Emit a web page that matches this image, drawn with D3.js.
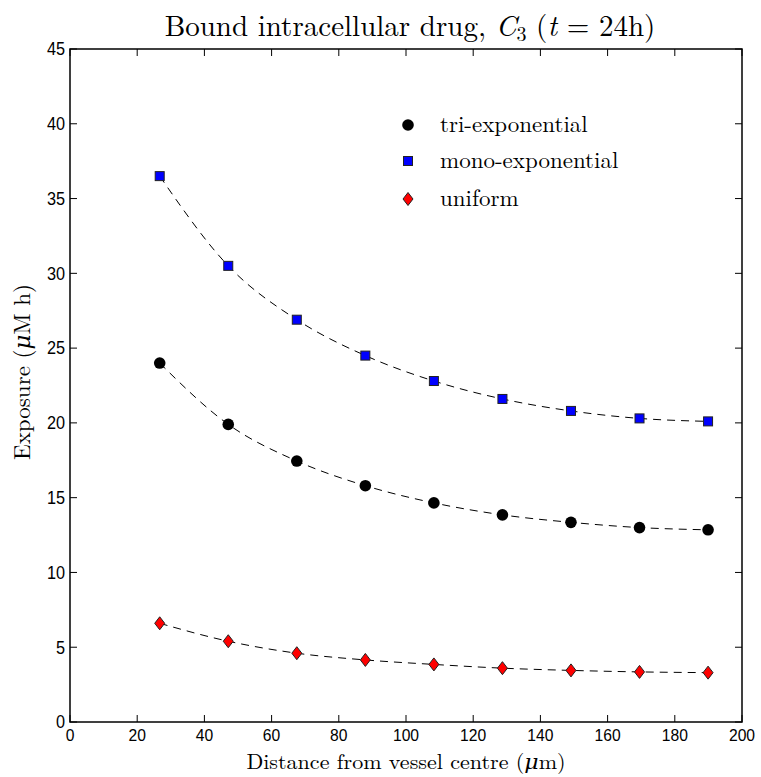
<!DOCTYPE html>
<html><head><meta charset="utf-8">
<script src="https://cdn.jsdelivr.net/npm/d3@7/dist/d3.min.js"></script>
<style>body{margin:0;background:#fff}</style>
</head><body>
<svg id="c" width="761" height="777"></svg>
<script>
const distances = [26.7, 47.1, 67.5, 87.9, 108.3, 128.7, 149.1, 169.5, 189.9];
const triExp = [24.0, 19.9, 17.45, 15.8, 14.65, 13.85, 13.35, 13.0, 12.85];
const monoExp = [36.5, 30.5, 26.9, 24.5, 22.8, 21.6, 20.8, 20.3, 20.1];
const uniform = [6.6, 5.4, 4.6, 4.15, 3.85, 3.6, 3.45, 3.35, 3.3];
const xTicks = [0,20,40,60,80,100,120,140,160,180,200];
const yTicks = [0,5,10,15,20,25,30,35,40,45];
const seriesNames = ["tri-exponential","mono-exponential","uniform"];

const svg = d3.select("#c");
const L=70, R=742, T=49, B=722;
const x = d3.scaleLinear().domain([0,200]).range([L,R]);
const y = d3.scaleLinear().domain([0,45]).range([B,T]);
const serif = "'Latin Modern Roman','CMU Serif','DejaVu Serif',serif";
const sans = "'Liberation Sans',Arial,sans-serif";

const tl = 7;
const g = svg.append("g");
xTicks.forEach(t=>{
  g.append("line").attr("x1",x(t)).attr("x2",x(t)).attr("y1",B).attr("y2",B-tl).attr("stroke","#000");
  g.append("line").attr("x1",x(t)).attr("x2",x(t)).attr("y1",T).attr("y2",T+tl).attr("stroke","#000");
  g.append("text").attr("x",x(t)).attr("y",B+19).attr("text-anchor","middle").attr("font-family",sans).attr("font-size",16.5).attr("transform",`translate(${x(t)},0) scale(0.95,1) translate(${-x(t)},0)`).text(t);
});
yTicks.forEach(t=>{
  g.append("line").attr("x1",L).attr("x2",L+tl).attr("y1",y(t)).attr("y2",y(t)).attr("stroke","#000");
  g.append("line").attr("x1",R).attr("x2",R-tl).attr("y1",y(t)).attr("y2",y(t)).attr("stroke","#000");
  g.append("text").attr("x",L-5).attr("y",y(t)).attr("dy","0.36em").attr("text-anchor","end").attr("font-family",sans).attr("font-size",17.5).attr("transform",`translate(${L-5},0) scale(0.93,1) translate(${-(L-5)},0)`).text(t);
});
svg.append("rect").attr("x",L).attr("y",T).attr("width",R-L).attr("height",B-T).attr("fill","none").attr("stroke","#000").attr("stroke-width",1.5);

const line = d3.line().x((d,i)=>x(distances[i])).y(d=>y(d)).curve(d3.curveMonotoneX);
[triExp, monoExp, uniform].forEach(s=>{
  svg.append("path").attr("d",line(s)).attr("fill","none").attr("stroke","#000").attr("stroke-width",1).attr("stroke-dasharray","8,6");
});

function marker(sel, type, cx, cy){
  if(type===0) sel.append("circle").attr("cx",cx).attr("cy",cy).attr("r",5.8).attr("fill","#000");
  else if(type===1) sel.append("rect").attr("x",cx-4.5).attr("y",cy-4.5).attr("width",9).attr("height",9).attr("fill","#0000ff").attr("stroke","#222").attr("stroke-width",1);
  else sel.append("path").attr("d",`M${cx},${cy-6.5}L${cx+5},${cy}L${cx},${cy+6.5}L${cx-5},${cy}Z`).attr("fill","#ff0000").attr("stroke","#222").attr("stroke-width",1);
}
[triExp, monoExp, uniform].forEach((s,k)=>{
  const gg = svg.append("g");
  s.forEach((v,i)=>marker(gg,k,x(distances[i]),y(v)));
});

const legY=[125,161,199];
seriesNames.forEach((n,k)=>{
  marker(svg,k,408,legY[k]);
  svg.append("text").attr("x",440).attr("y",legY[k]).attr("dy","0.3em").attr("font-family",serif).attr("font-size",23).text(n);
});

const title = svg.append("text").attr("x",410).attr("y",36).attr("text-anchor","middle").attr("font-family",serif).attr("font-size",29);
title.append("tspan").text("Bound intracellular drug, ");
title.append("tspan").attr("font-style","italic").text("C");
title.append("tspan").attr("font-size",20).attr("dy",5).text("3");
title.append("tspan").attr("dy",-5).text(" (");
title.append("tspan").attr("font-style","italic").text("t");
title.append("tspan").text(" = 24h)");

svg.append("text").attr("x",406).attr("y",769).attr("text-anchor","middle").attr("font-family",serif).attr("font-size",21)
  .attr("transform","translate(406,0) scale(1.05,1) translate(-406,0)")
  .html('Distance from vessel centre (<tspan font-style="italic">μ</tspan>m)');
svg.append("text").attr("transform","translate(30,372) rotate(-90)").attr("text-anchor","middle").attr("font-family",serif).attr("font-size",23)
  .html('Exposure (<tspan font-style="italic">μ</tspan>M h)');
</script>
</body></html>
